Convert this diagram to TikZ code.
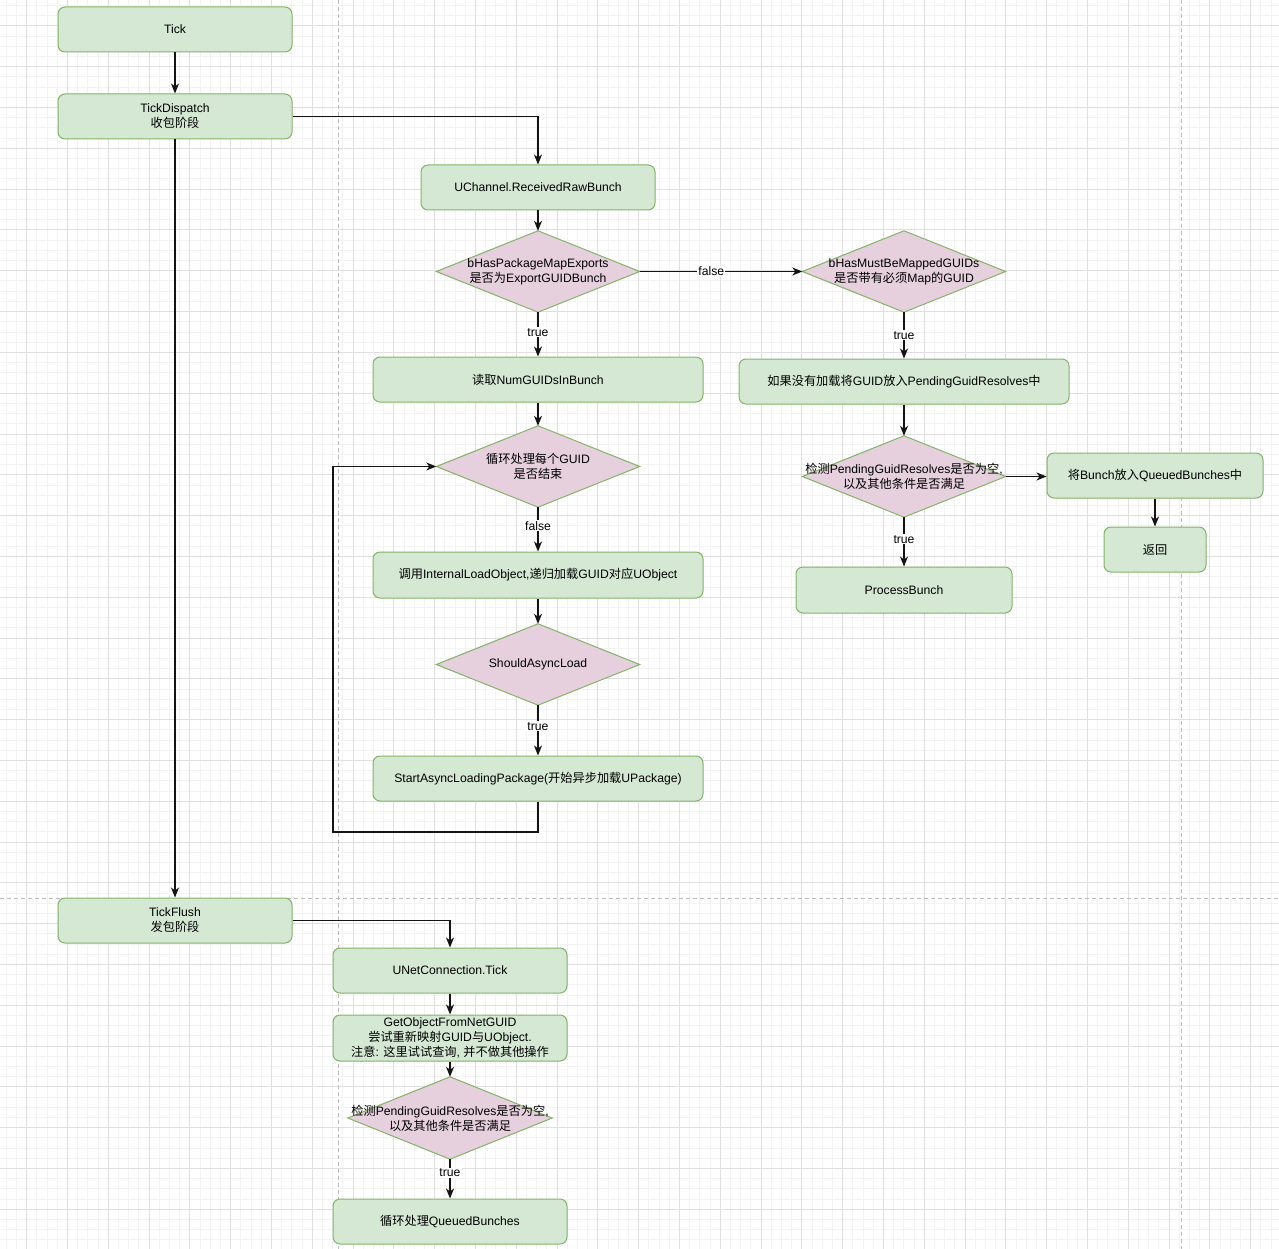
\documentclass[tikz,border=0pt]{standalone}
\usepackage{fontspec}
\setmainfont{Liberation Sans}
\newfontfamily\cjk{Noto Sans CJK SC}
\usetikzlibrary{arrows.meta}
\definecolor{boxfill}{HTML}{D5E8D4}
\definecolor{boxline}{HTML}{82B366}
\definecolor{diafill}{HTML}{E6D0DE}
\definecolor{gridminor}{HTML}{F3F3F3}
\definecolor{gridmajor}{HTML}{E0E0E0}
\definecolor{pagebrk}{HTML}{BDBDBD}
\definecolor{linecol}{HTML}{141414}
\newcommand\zhs[1]{{\cjk #1}}
\tikzset{
  txt/.style={font=\fontsize{12.2pt}{15pt}\selectfont, text=black, align=center},
  box/.style={txt, rectangle, rounded corners=7pt, draw=boxline, fill=boxfill, line width=1pt, inner sep=0pt},
  dia/.style={txt, rectangle, minimum width=203pt, minimum height=81pt, inner sep=0pt},
  diashape/.style={draw=boxline, fill=diafill, line width=1pt},
  arr/.style={draw=linecol, line width=1.2pt, -{Stealth[length=10pt,width=8pt,inset=3pt]}},
  lbl/.style={txt, fill=white, inner sep=1pt},
}
\begin{document}
\begin{tikzpicture}[x=1pt,y=-1pt]
\fill[white] (0,0) rectangle (1279,1249);
\useasboundingbox (0,0) rectangle (1279,1249);
% grid
\foreach \i in {0,...,124} { \pgfmathsetmacro\xx{6.3+10.2*\i} \draw[gridminor, line width=1pt] (\xx,0) -- (\xx,1249); }
\foreach \i in {0,...,121} { \pgfmathsetmacro\yy{5.6+10.2*\i} \draw[gridminor, line width=1pt] (0,\yy) -- (1279,\yy); }
\foreach \i in {0,...,30} { \pgfmathsetmacro\xx{26.7+40.8*\i} \draw[gridmajor, line width=1pt] (\xx,0) -- (\xx,1249); }
\foreach \i in {0,...,29} { \pgfmathsetmacro\yy{26+40.8*\i} \draw[gridmajor, line width=1pt] (0,\yy) -- (1279,\yy); }
% page breaks
\draw[pagebrk, line width=1pt, dash pattern=on 4pt off 3pt] (338.5,0) -- (338.5,1249);
\draw[pagebrk, line width=1pt, dash pattern=on 4pt off 3pt] (1181,0) -- (1181,1249);
\draw[pagebrk, line width=1pt, dash pattern=on 4pt off 3pt] (0,898.3) -- (1279,898.3);

% nodes
\node[box, minimum width=234pt, minimum height=45pt] (tick) at (175,29.5) {Tick};
\node[box, minimum width=234pt, minimum height=45pt] (disp) at (175,116.5) {TickDispatch\\\zhs{收包阶段}};
\node[box, minimum width=234pt, minimum height=45pt] (uch) at (538,187.5) {UChannel.ReceivedRawBunch};
\node[dia] (d1) at (538,271.5) {};
\node[dia] (d2) at (904,271.5) {};
\node[box, minimum width=330pt, minimum height=45pt] (read) at (538,379.5) {\zhs{读取}NumGUIDsInBunch};
\node[box, minimum width=330pt, minimum height=45pt] (ifnot) at (904,381.5) {\zhs{如果没有加载将}GUID\zhs{放入}PendingGuidResolves\zhs{中}};
\node[dia] (d3) at (538,466.5) {};
\node[dia] (d4) at (904,476.5) {};
\node[box, minimum width=216pt, minimum height=45pt] (queue) at (1155,475.5) {\zhs{将}Bunch\zhs{放入}QueuedBunches\zhs{中}};
\node[box, minimum width=102pt, minimum height=45pt] (ret) at (1155,549.5) {\zhs{返回}};
\node[box, minimum width=216pt, minimum height=46pt] (proc) at (904,590) {ProcessBunch};
\node[box, minimum width=330pt, minimum height=46pt] (call) at (538,575) {\zhs{调用}InternalLoadObject,\zhs{递归加载}GUID\zhs{对应}UObject};
\node[dia] (d5) at (538,664.5) {};
\node[box, minimum width=330pt, minimum height=45pt] (start) at (538,778.5) {StartAsyncLoadingPackage(\zhs{开始异步加载}UPackage)};
\node[box, minimum width=234pt, minimum height=45pt] (flush) at (175,920.5) {TickFlush\\\zhs{发包阶段}};
\node[box, minimum width=234pt, minimum height=45pt] (unet) at (450,970.5) {UNetConnection.Tick};
\node[box, minimum width=234pt, minimum height=46pt] (getobj) at (450,1038) {GetObjectFromNetGUID\\\zhs{尝试重新映射}GUID\zhs{与}UObject.\\\zhs{注意}: \zhs{这里试试查询}, \zhs{并不做其他操作}};
\node[dia, minimum width=204pt, minimum height=82pt] (d6) at (450,1118) {};
\node[box, minimum width=234pt, minimum height=45pt] (loopq) at (450,1221.5) {\zhs{循环处理}QueuedBunches};

% diamond shapes
\foreach \d in {d1,d2,d3,d4,d5,d6} {
  \draw[diashape] (\d.north) -- (\d.east) -- (\d.south) -- (\d.west) -- cycle;
}
\node[txt] at (d1) {bHasPackageMapExports\\\zhs{是否为}ExportGUIDBunch};
\node[txt] at (d2) {bHasMustBeMappedGUIDs\\\zhs{是否带有必须}Map\zhs{的}GUID};
\node[txt] at (d3) {\zhs{循环处理每个}GUID\\\zhs{是否结束}};
\node[txt] at (d4) {\zhs{检测}PendingGuidResolves\zhs{是否为空},\\\zhs{以及其他条件是否满足}};
\node[txt] at (d5) {ShouldAsyncLoad};
\node[txt] at (d6) {\zhs{检测}PendingGuidResolves\zhs{是否为空},\\\zhs{以及其他条件是否满足}};

% connectors
\coordinate (loopc) at (333,832);
\draw[arr] (tick.south) -- (disp.north);
\draw[arr] (disp.east) -| (uch.north);
\draw[arr] (disp.south) -- (flush.north);
\draw[arr] (uch.south) -- (d1.north);
\draw[arr] (d1.south) -- node[lbl, pos=0.45] {true} (read.north);
\draw[arr] (d1.east) -- node[lbl, pos=0.44] {false} (d2.west);
\draw[arr] (d2.south) -- node[lbl, pos=0.5] {true} (ifnot.north);
\draw[arr] (ifnot.south) -- (d4.north);
\draw[arr] (d4.east) -- (d4.east -| queue.west);
\draw[arr] (d4.south) -- node[lbl, pos=0.45] {true} (proc.north);
\draw[arr] (queue.south) -- (ret.north);
\draw[arr] (read.south) -- (d3.north);
\draw[arr] (d3.south) -- node[lbl, pos=0.42] {false} (call.north);
\draw[arr] (call.south) -- (d5.north);
\draw[arr] (d5.south) -- node[lbl, pos=0.42] {true} (start.north);
\draw[arr] (start.south) |- (loopc) |- (d3.west);
\draw[arr] (flush.east) -| (unet.north);
\draw[arr] (unet.south) -- (getobj.north);
\draw[arr] (getobj.south) -- (d6.north);
\draw[arr] (d6.south) -- node[lbl, pos=0.35] {true} (loopq.north);
\end{tikzpicture}
\end{document}
